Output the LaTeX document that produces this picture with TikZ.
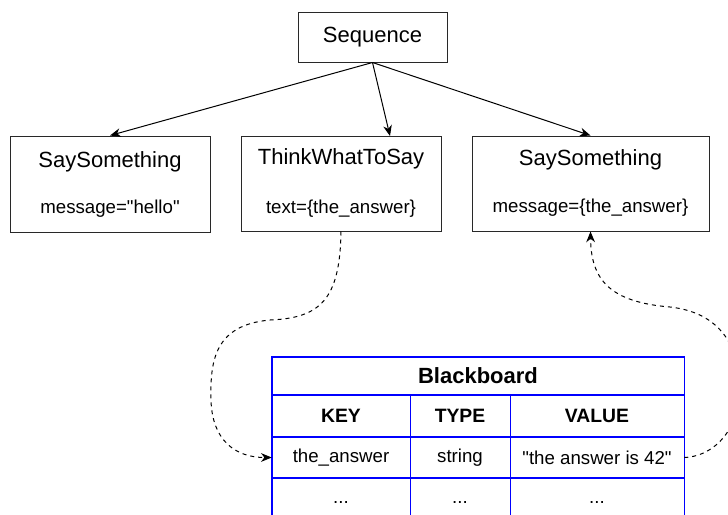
\documentclass[tikz,border=0pt]{standalone}
\usepackage{fontspec}
\setmainfont{Liberation Sans}
\newfontfamily\plainfont{Liberation Sans}
\usetikzlibrary{arrows.meta}
\definecolor{tblue}{RGB}{0,0,255}
\definecolor{edge}{RGB}{40,40,40}
\newcommand\dq{{\plainfont\symbol{34}}}
\begin{document}
\begin{tikzpicture}[x=0.75pt,y=-0.75pt,
  box/.style={draw=edge, line width=0.75pt, inner sep=0pt, fill=white},
  ttl/.style={font=\fontsize{16.5}{18}\selectfont, inner sep=0pt},
  sub/.style={font=\fontsize{14}{16}\selectfont, inner sep=0pt},
  cell/.style={inner sep=0pt, font=\fontsize{14}{16}\selectfont},
  dots/.style={cell, text height=7pt, text depth=0pt},
  hcell/.style={cell, font=\fontsize{14.5}{16}\selectfont\bfseries},
  grid/.style={draw=tblue, line width=1.15pt},
  flow/.style={draw=black, line width=0.75pt, -{Stealth[length=8pt,width=6.5pt,inset=2.5pt]}},
  link/.style={draw=black, line width=0.75pt, dash pattern=on 3pt off 3pt, -{Stealth[length=8pt,width=6.5pt,inset=2.5pt]}}
]
\useasboundingbox (0,0) rectangle (728,514);
\clip (0,0) rectangle (728,514);

% tree nodes
\node[box, minimum width=111.75pt, minimum height=37.5pt] (seq) at (372.5,37) {};
\node[ttl] (seqt) at (372.5,37) {Sequence};

\node[box, minimum width=150pt, minimum height=72pt] (say1) at (110,184) {};
\node[ttl] (say1t) at (110,162) {SaySomething};
\node[sub] (say1s) at (110,209) {message=\dq hello\dq};

\node[box, minimum width=150pt, minimum height=71.25pt] (think) at (341,183.5) {};
\node[ttl] (thinkt) at (341,159) {ThinkWhatToSay};
\node[sub] (thinks) at (341,209) {text=\{the\_answer\}};

\node[box, minimum width=177.75pt, minimum height=71.25pt] (say2) at (590.5,183.5) {};
\node[ttl] (say2t) at (590.5,160) {SaySomething};
\node[sub] (say2s) at (590.5,208) {message=\{the\_answer\}};

% blackboard table cells
\node[hcell, minimum width=309pt, minimum height=28.5pt, font=\fontsize{16.5}{18}\selectfont\bfseries] (bb) at (478,376) {Blackboard};
\node[hcell, minimum width=103.5pt, minimum height=31.5pt] (hkey) at (341,416) {KEY};
\node[hcell, minimum width=75pt, minimum height=31.5pt] (htype) at (460,416) {TYPE};
\node[hcell, minimum width=130.5pt, minimum height=31.5pt] (hval) at (597,416) {VALUE};
\node[cell, minimum width=103.5pt, minimum height=30.75pt] (k1) at (341,457.5) {the\_answer};
\node[cell, minimum width=75pt, minimum height=30.75pt] (t1) at (460,457.5) {string};
\node[cell, minimum width=130.5pt, minimum height=30.75pt] (v1) at (597,457.5) {\dq the answer is 42\dq};
\node[dots, minimum width=103.5pt, minimum height=30.75pt] (k2) at (341,498.5) {...};
\node[dots, minimum width=75pt, minimum height=30.75pt] (t2) at (460,498.5) {...};
\node[dots, minimum width=130.5pt, minimum height=30.75pt] (v2) at (597,498.5) {...};

% table grid
\draw[grid] (bb.north west) rectangle (v2.south east);
\draw[grid] (hkey.north west) -- (hval.north east);
\draw[grid] (k1.north west) -- (v1.north east);
\draw[grid] (k2.north west) -- (v2.north east);
\draw[grid] (hkey.north east) -- (k2.south east);
\draw[grid] (htype.north east) -- (t2.south east);

% tree edges
\coordinate (a2) at (390,136);
\draw[flow] (seq.south) -- (say1.north);
\draw[flow] (seq.south) -- (a2);
\draw[flow] (seq.south) -- (say2.north);

% blackboard links
\draw[link] (think.south) .. controls (340,300) and (320,318) .. (270,320)
  .. controls (215,325) and (210,360) .. (211,400)
  .. controls (212,440) and (235,457.5) .. (k1.west);
\draw[link] (v1.east) .. controls (720,456) and (742,420) .. (740,385)
  .. controls (738,340) and (715,312) .. (670,307)
  .. controls (610,302) and (591,280) .. (say2.south);
\end{tikzpicture}
\end{document}
